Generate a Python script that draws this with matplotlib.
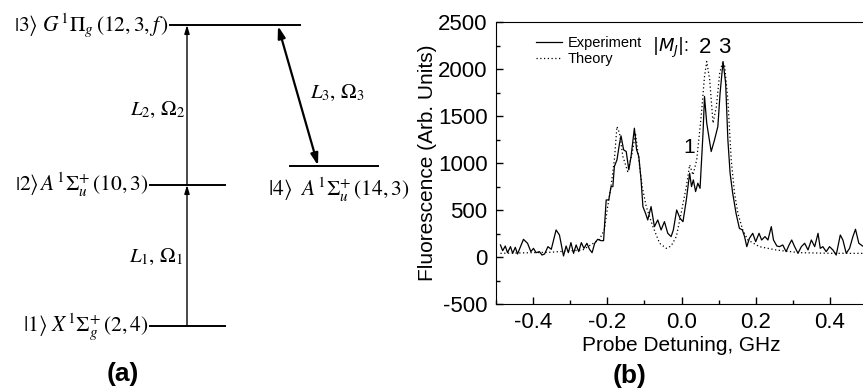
import matplotlib
matplotlib.use("Agg")
import matplotlib.pyplot as plt
from matplotlib.ticker import MultipleLocator, FormatStrFormatter

plt.rcParams['mathtext.fontset'] = 'stix'
plt.rcParams['axes.unicode_minus'] = False
plt.rcParams['font.family'] = ['Liberation Sans', 'DejaVu Sans']

# ---------------- data: experiment ----------------
exp_x = [-0.488, -0.482, -0.475, -0.469, -0.461, -0.455, -0.448, -0.442, -0.426, -0.415,
         -0.406, -0.399, -0.392, -0.383, -0.376, -0.369, -0.360, -0.351, -0.338, -0.329,
         -0.318, -0.311, -0.305, -0.298, -0.291, -0.284, -0.277, -0.270, -0.263, -0.255,
         -0.248, -0.241, -0.234, -0.226, -0.217, -0.210, -0.203, -0.196, -0.190, -0.185,
         -0.181, -0.174, -0.167, -0.163, -0.156, -0.149, -0.142, -0.136, -0.127, -0.121,
         -0.115, -0.109, -0.104, -0.097, -0.091, -0.082, -0.073, -0.064, -0.055, -0.046,
         -0.037, -0.028, -0.022, -0.013, -0.004, 0.004, 0.013, 0.022, 0.027, 0.032,
         0.038, 0.044, 0.050, 0.058, 0.062, 0.068, 0.080, 0.089, 0.098, 0.104,
         0.112, 0.119, 0.125, 0.131, 0.138, 0.147, 0.156, 0.164, 0.170, 0.176,
         0.183, 0.192, 0.200, 0.209, 0.216, 0.225, 0.233, 0.242, 0.248, 0.257,
         0.264, 0.273, 0.282, 0.290, 0.297, 0.305, 0.314, 0.323, 0.332, 0.341,
         0.350, 0.359, 0.368, 0.374, 0.381, 0.390, 0.399, 0.408, 0.417, 0.428,
         0.435, 0.444, 0.453, 0.462, 0.469, 0.478, 0.488]
exp_y = [128, 67, 117, 46, 110, 39, 103, 32, 188, 146,
         57, 92, 46, 57, 21, 32, 110, 82, 288, 234,
         11, 117, 46, 153, 39, 128, 57, 153, 92, 146,
         82, 46, 146, 188, 174, 174, 607, 607, 749, 749,
         962, 1033, 1210, 1289, 1140, 1122, 927, 1069, 1370, 1140,
         1069, 820, 536, 465, 394, 536, 323, 394, 288, 376,
         252, 217, 288, 500, 412, 376, 607, 891, 749, 820,
         696, 785, 731, 1317, 1708, 1424, 1122, 1246, 1388, 1743,
         2080, 1850, 1246, 891, 678, 465, 305, 288, 217, 110,
         199, 252, 163, 252, 181, 217, 181, 323, 181, 117,
         110, 128, 57, 128, 181, 110, 39, 110, 146, 75,
         181, 110, 252, 92, 110, 57, 110, 75, 21, 234,
         181, 39, 92, 217, 295, 146, 117]

# ---------------- data: theory ----------------
th_x = [-0.488, -0.356, -0.266, -0.221, -0.208, -0.199, -0.190, -0.181, -0.174, -0.167,
        -0.158, -0.145, -0.133, -0.124, -0.115, -0.106, -0.095, -0.077, -0.059, -0.041,
        -0.028, -0.014, -0.001, 0.013, 0.022, 0.031, 0.041, 0.053, 0.062, 0.068,
        0.076, 0.085, 0.094, 0.103, 0.110, 0.116, 0.125, 0.134, 0.143, 0.152,
        0.165, 0.179, 0.210, 0.255, 0.318, 0.408, 0.488]
th_y = [39, 50, 75, 188, 288, 536, 749, 1033, 1388, 1317,
        1069, 909, 1104, 1317, 1033, 749, 536, 323, 146, 92,
        117, 217, 465, 749, 980, 873, 1033, 1495, 1920, 2080,
        1885, 1424, 1601, 1956, 2063, 2045, 1672, 1033, 678, 465,
        288, 181, 110, 75, 46, 39, 39]

# ---------------- energy-level diagram ----------------
level_labels = [r'$\left|1\right\rangle\ X^{1}\Sigma_{g}^{+}\,\left(2,4\right)$',
                r'$\left|2\right\rangle\,A^{1}\Sigma_{u}^{+}\,\left(10,3\right)$',
                r'$\left|3\right\rangle\ G^{1}\Pi_{g}\,\left(12,3,f\,\right)$',
                r'$\left|4\right\rangle\ \ A^{1}\Sigma_{u}^{+}\,\left(14,3\right)$']
transition_labels = [r'$L_1,\,\Omega_1$', r'$L_2,\,\Omega_2$', r'$L_3,\,\Omega_3$']

W, H = 863, 392
fig = plt.figure(figsize=(W / 100, H / 100), dpi=100)

axd = fig.add_axes([0, 0, 1, 1])
axd.set_xlim(0, W)
axd.set_ylim(H, 0)
axd.axis('off')

lw = 1.4
axd.plot([150, 225], [325.5, 325.5], color='k', lw=lw)
axd.plot([150, 225], [185, 185], color='k', lw=lw)
axd.plot([170, 300], [25, 25], color='k', lw=lw)
axd.plot([290, 378], [165.5, 165.5], color='k', lw=lw)

tfs = 15.5
axd.text(149, 326, level_labels[0], ha='right', va='center', fontsize=tfs)
axd.text(149, 185, level_labels[1], ha='right', va='center', fontsize=tfs)
axd.text(169, 25, level_labels[2], ha='right', va='center', fontsize=tfs)
axd.text(268, 190, level_labels[3], ha='left', va='center', fontsize=tfs)

ap = dict(arrowstyle='-|>,head_length=0.5,head_width=0.15', color='k', lw=1.0,
          shrinkA=0, shrinkB=0)
axd.annotate('', xy=(187, 185), xytext=(187, 325.5), arrowprops=ap)
axd.annotate('', xy=(187, 25), xytext=(187, 185), arrowprops=ap)
ap2 = dict(arrowstyle='<|-|>,head_length=0.7,head_width=0.22', color='k', lw=1.6,
           shrinkA=0, shrinkB=0)
axd.annotate('', xy=(318, 165.5), xytext=(278, 26), arrowprops=ap2)

axd.text(156, 257, transition_labels[0], ha='center', va='center', fontsize=15)
axd.text(158, 110, transition_labels[1], ha='center', va='center', fontsize=15)
axd.text(337, 93, transition_labels[2], ha='center', va='center', fontsize=15)

axd.text(123, 374, '(a)', ha='center', va='center', fontsize=19, fontweight='bold')
axd.text(630, 376, '(b)', ha='center', va='center', fontsize=19, fontweight='bold')

# ---------------- spectrum panel ----------------
ax = fig.add_axes([496 / W, 1 - 304 / H, 371 / W, 282 / H])
ax.plot(exp_x, exp_y, color='k', lw=0.9, label='Experiment')
ax.plot(th_x, th_y, color='k', lw=0.9, ls=(0, (1, 2)), label='Theory')
ax.set_xlim(-0.5, 0.5)
ax.set_ylim(-500, 2500)
ax.xaxis.set_major_locator(MultipleLocator(0.2))
ax.xaxis.set_minor_locator(MultipleLocator(0.1))
ax.yaxis.set_major_locator(MultipleLocator(500))
ax.yaxis.set_minor_locator(MultipleLocator(250))
ax.xaxis.set_major_formatter(FormatStrFormatter('%.1f'))
ax.tick_params(which='both', direction='in', labelsize=16)
ax.tick_params(which='major', length=5, width=1, pad=6)
ax.tick_params(which='minor', length=3, width=1)
ax.set_xlabel('Probe Detuning, GHz', fontsize=15, labelpad=2)
ax.set_ylabel('Fluorescence (Arb. Units)', fontsize=15, labelpad=1)
ax.legend(loc='upper left', bbox_to_anchor=(0.08, 0.985), frameon=False, fontsize=10.5,
          handlelength=1.8, handletextpad=0.4, labelspacing=0.1, borderpad=0.2)

ax.text(-0.08, 2225, r'$|M_J|$:', fontsize=13, ha='left', va='center',
        math_fontfamily='dejavusans')
ax.text(0.063, 2225, '2', fontsize=16, ha='center', va='center')
ax.text(0.116, 2225, '3', fontsize=16, ha='center', va='center')
ax.text(0.022, 1170, '1', fontsize=15, ha='center', va='center')

fig.savefig('out.png', dpi=100)
